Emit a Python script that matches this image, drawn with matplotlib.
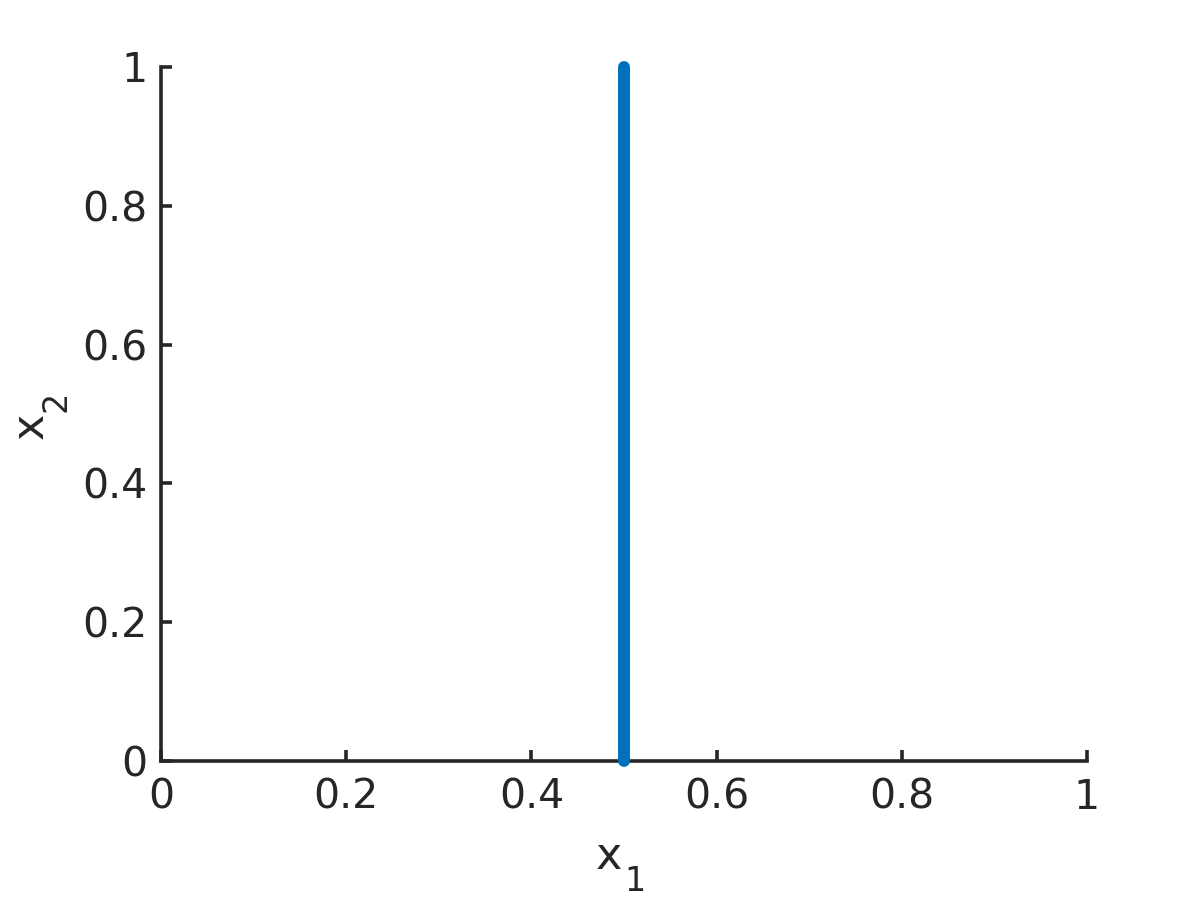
import numpy as np
import matplotlib.pyplot as plt

# boundary line x1 = 0.5
x1_vals = [0.5, 0.5]
x2_vals = [0.0, 1.0]
ticks = [0, 0.2, 0.4, 0.6, 0.8, 1]
tick_labels = ['0', '0.2', '0.4', '0.6', '0.8', '1']

axcol = '#262626'
plt.rcParams['font.family'] = ['DejaVu Sans']

W, H = 1200, 900
fig = plt.figure(figsize=(12, 9), dpi=100)
ax = fig.add_axes([161 / W, 1 - 761 / H, 926 / W, 694 / H])
ax.plot(x1_vals, x2_vals, color='#0072BD', linewidth=8.6,
        solid_capstyle='round', clip_on=False, zorder=5)

ax.set_xlim(0, 1)
ax.set_ylim(0, 1)
ax.set_xticks(ticks)
ax.set_xticklabels(tick_labels)
ax.set_yticks(ticks)
ax.set_yticklabels(tick_labels)
for s in ['top', 'right']:
    ax.spines[s].set_visible(False)
for s in ['left', 'bottom']:
    ax.spines[s].set_color(axcol)
    ax.spines[s].set_linewidth(2.6)
ax.tick_params(direction='in', length=8, width=2.6, colors=axcol, labelsize=29.5)
ax.tick_params(axis='x', pad=12)
ax.tick_params(axis='y', pad=10)

# axis labels, MATLAB style subscripts
def lab(px, py, s, size, rot=0):
    fig.text(px / W, 1 - py / H, s, fontsize=size, color=axcol, rotation=rot,
             rotation_mode='anchor', ha='left', va='baseline')

lab(596, 869, 'x', 32)
lab(624, 891, '1', 24)
lab(43, 439, 'x', 32, 90)
lab(65, 412, '2', 24, 90)

fig.savefig('out.png', dpi=100)
